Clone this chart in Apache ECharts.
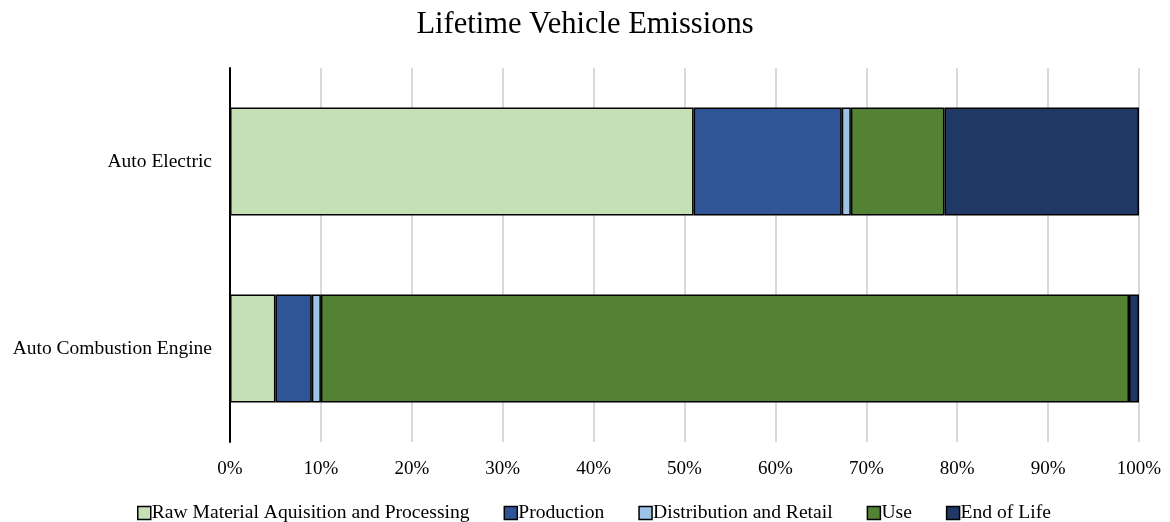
<!DOCTYPE html>
<html>
<head>
<meta charset="utf-8">
<style>
  html, body { margin: 0; padding: 0; background: #ffffff; }
  #chart { width: 1170px; height: 522px; }
</style>
<script src="https://cdn.jsdelivr.net/npm/echarts@6/dist/echarts.min.js"></script>
</head>
<body>
<div id="chart"></div>
<script>
// Vehicle types, listed bottom to top
const categories = ['Auto Combustion Engine', 'Auto Electric'];

// Share of lifetime emissions per stage (%), same order as categories
const rawMaterial = [5.0, 51.0];
const production = [4.0, 16.3];
const distribution = [1.0, 1.0];
const useStage = [88.9, 10.3];
const endOfLife = [1.1, 21.4];

const stageNames = [
  'Raw Material Aquisition and Processing',
  'Production',
  'Distribution and Retail',
  'Use',
  'End of Life'
];
const stageValues = [rawMaterial, production, distribution, useStage, endOfLife];
const stageColors = ['#C5E0B4', '#2F5597', '#9DC3E6', '#548235', '#203864'];

const xTicks = [0, 10, 20, 30, 40, 50, 60, 70, 80, 90, 100];

const fontFamily = '"Liberation Serif", "Times New Roman", serif';

const chart = echarts.init(document.getElementById('chart'), null, { renderer: 'canvas' });

chart.setOption({
  animation: false,
  backgroundColor: '#ffffff',
  title: {
    text: 'Lifetime Vehicle Emissions',
    left: 'center',
    top: 4,
    textStyle: { fontFamily, fontSize: 30.5, fontWeight: 'normal', color: '#000000' }
  },
  legend: {
    top: 498,
    left: 132,
    itemWidth: 13,
    itemHeight: 13,
    itemGap: 34,
    icon: 'rect',
    textStyle: { fontFamily, fontSize: 19.6, color: '#000000', padding: [0, 0, 0, -4] },
    data: stageNames.map((n, i) => ({
      name: n,
      itemStyle: { color: stageColors[i], borderColor: '#000000', borderWidth: 1.5 }
    }))
  },
  grid: { left: 230, right: 31, top: 68, bottom: 80, containLabel: false },
  xAxis: {
    type: 'value',
    min: xTicks[0],
    max: xTicks[xTicks.length - 1],
    interval: xTicks[1] - xTicks[0],
    axisLine: { show: false },
    axisTick: { show: false },
    axisLabel: {
      formatter: '{value}%',
      fontFamily,
      fontSize: 19,
      color: '#000000',
      margin: 18
    },
    splitLine: { show: true, lineStyle: { color: '#D9D9D9', width: 2 } }
  },
  yAxis: {
    type: 'category',
    data: categories,
    axisLine: { show: true, lineStyle: { color: '#000000', width: 2 } },
    axisTick: { show: false },
    axisLabel: { fontFamily, fontSize: 19.5, color: '#000000', margin: 18 }
  },
  series: stageNames.map((name, i) => ({
    name,
    type: 'bar',
    stack: 'total',
    barWidth: 108,
    data: stageValues[i],
    itemStyle: { color: stageColors[i], borderColor: '#000000', borderWidth: 1.5 }
  }))
});
</script>
</body>
</html>
